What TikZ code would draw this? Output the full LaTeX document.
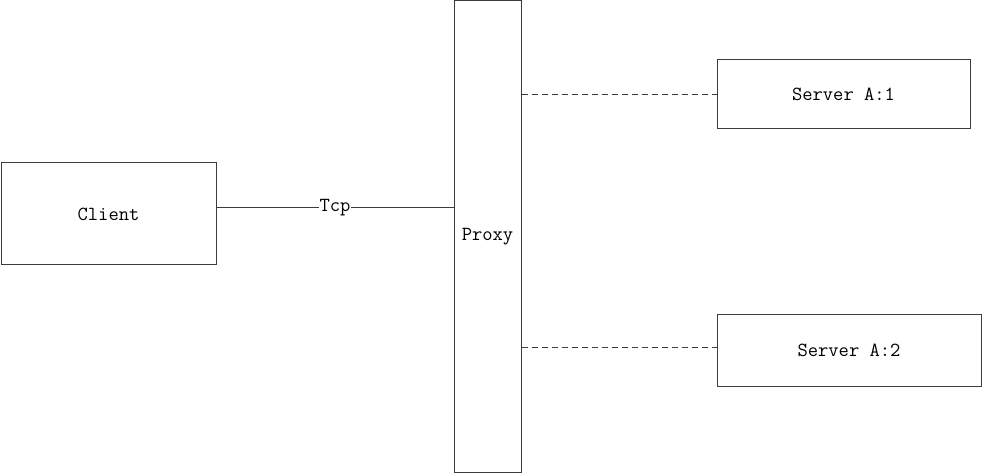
\documentclass[tikz,border=0pt]{standalone}
\usetikzlibrary{positioning}
\definecolor{edge}{HTML}{3C3C3C}
\tikzset{
  box/.style={draw=edge, line width=1pt, inner sep=0pt,
    font=\fontsize{20}{22}\selectfont\ttfamily},
  tcpline/.style={draw=edge, line width=1pt},
  dashline/.style={draw=edge, line width=1pt, dash pattern=on 6pt off 4pt}
}
\begin{document}
\begin{tikzpicture}[x=1pt,y=-1pt]
    \useasboundingbox (0,0) rectangle (983,473);

    \node[box, minimum width=215pt, minimum height=102pt] (Client) at (108.5,214) {Client};
    \node[box, minimum width=67pt, minimum height=471pt] (Proxy) at (487.5,236.5) {Proxy};
    \node[box, minimum width=253pt, minimum height=69pt] (SrvOne) at (843.5,94.5) {Server A:1};
    \node[box, minimum width=264pt, minimum height=72pt] (SrvTwo) at (849,350) {Server A:2};

    \coordinate (TcpOut) at ([yshift=6pt]Client.east);
    \coordinate (TwoIn) at ([yshift=3pt]SrvTwo.west);

    \draw[tcpline] (TcpOut) -- (Proxy.west |- TcpOut)
      node[midway, fill=white, inner sep=1pt, font=\fontsize{20}{22}\selectfont\ttfamily] (Tcp) {Tcp};
    \draw[dashline] (Proxy.east |- SrvOne.west) -- (SrvOne.west);
    \draw[dashline] (Proxy.east |- TwoIn) -- (TwoIn);
  \end{tikzpicture}
\end{document}
